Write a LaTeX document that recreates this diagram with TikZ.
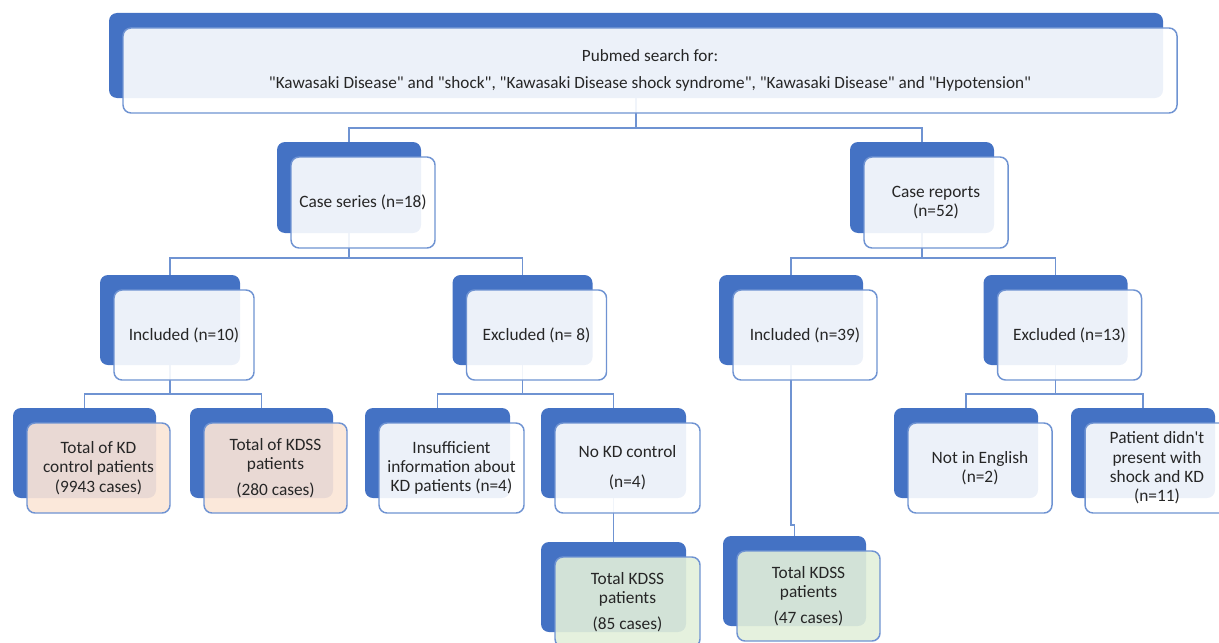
\documentclass[tikz,border=0pt]{standalone}
\usepackage{fontspec}
\setmainfont{Carlito}[Ligatures=TeXOff]
\usetikzlibrary{calc}
\definecolor{kblue}{HTML}{4472C4}
\definecolor{kline}{HTML}{6F93D2}
\definecolor{kpeach}{HTML}{FBE5D6}
\definecolor{kgreen}{HTML}{E2EFDA}
\definecolor{ktext}{HTML}{262626}
\pgfdeclarelayer{back}
\pgfdeclarelayer{mid}
\pgfsetlayers{back,mid,main}
\tikzset{
  backbox/.style={fill=kblue, rounded corners=6pt, inner sep=0pt, outer sep=0pt},
  frontbox/.style={draw=kline, line width=1.1pt, fill=white, fill opacity=0.9, text opacity=1,
    rounded corners=6pt, align=center, text=ktext, inner sep=2pt, font=\fontsize{13}{14.5}\selectfont},
  peachbox/.style={fill=kpeach},
  greenbox/.style={fill=kgreen},
  conn/.style={draw=kline, line width=0.9pt},
}
\newcommand\kbox[7]{%
  \begin{pgfonlayer}{back}
  \node[backbox, minimum width=#4*0.75pt, minimum height=#5*0.75pt] (#1b) at (#2-14,#3-15) {};
  \end{pgfonlayer}
  \node[frontbox, minimum width=#4*0.75pt, minimum height=#5*0.75pt, #6] (#1) at (#2,#3) {#7};}
\begin{document}
\begin{tikzpicture}[x=0.75pt,y=-0.75pt]
\useasboundingbox (0,0) rectangle (1219,642);
\clip (0,0) rectangle (1219,642);
\kbox{top}{650}{70.5}{1054}{85}{font=\fontsize{12.9}{14}\selectfont}{Pubmed search for:\\[6pt]"Kawasaki Disease" and "shock", "Kawasaki Disease shock syndrome", "Kawasaki Disease" and "Hypotension"}
\kbox{cs}{363}{202.5}{144}{91}{}{Case series (n=18)}
\kbox{cr}{936}{202.5}{144}{91}{}{Case reports\\(n=52)}
\kbox{inca}{184}{335}{140}{90}{}{Included (n=10)}
\kbox{exca}{536.5}{335}{140}{90}{}{Excluded (n= 8)}
\kbox{incb}{805}{335}{144}{90}{}{Included (n=39)}
\kbox{excb}{1069.5}{335}{144}{90}{}{Excluded (n=13)}
\kbox{kdc}{98.5}{468}{143}{90}{peachbox}{Total of KD\\control patients\\(9943 cases)}
\kbox{kdss}{275.5}{468}{143}{90}{peachbox}{Total of KDSS\\patients\\[5pt](280 cases)}
\kbox{insuf}{451.5}{468}{145}{90}{}{Insufficient\\information about\\KD patients (n=4)}
\kbox{nokd}{627.5}{468}{145}{90}{}{No KD control\\[8pt](n=4)}
\kbox{eng}{980}{468}{144}{90}{}{Not in English\\(n=2)}
\kbox{pat}{1157}{468}{144}{90}{}{Patient didn't\\present with\\shock and KD\\(n=11)}
\kbox{kc}{627.5}{602}{145}{90}{greenbox}{Total KDSS\\patients\\[5pt](85 cases)}
\kbox{kd}{808.5}{596}{143}{90}{greenbox}{Total KDSS\\patients\\[5pt](47 cases)}
\begin{pgfonlayer}{mid}
\draw[conn] (csb.north) -- ++(0,-14) -| (topb.south);
\draw[conn] (crb.north) -- ++(0,-14) -| (topb.south);
\draw[conn] (incab.north) -- ++(0,-17) -| (csb.south);
\draw[conn] (excab.north) -- ++(0,-17) -| (csb.south);
\draw[conn] (incbb.north) -- ++(0,-17) -| (crb.south);
\draw[conn] (excbb.north) -- ++(0,-17) -| (crb.south);
\draw[conn] (kdcb.north) -- ++(0,-14) -| (incab.south);
\draw[conn] (kdssb.north) -- ++(0,-14) -| (incab.south);
\draw[conn] (insufb.north) -- ++(0,-14) -| (excab.south);
\draw[conn] (nokdb.north) -- ++(0,-14) -| (excab.south);
\draw[conn] (engb.north) -- ++(0,-14) -| (excbb.south);
\draw[conn] (patb.north) -- ++(0,-14) -| (excbb.south);
\draw[conn] (nokdb.south) -- (kcb.north);
\draw[conn] (incbb.south) -- ++(0,160) -| (kdb.north);
\end{pgfonlayer}
\end{tikzpicture}
\end{document}
